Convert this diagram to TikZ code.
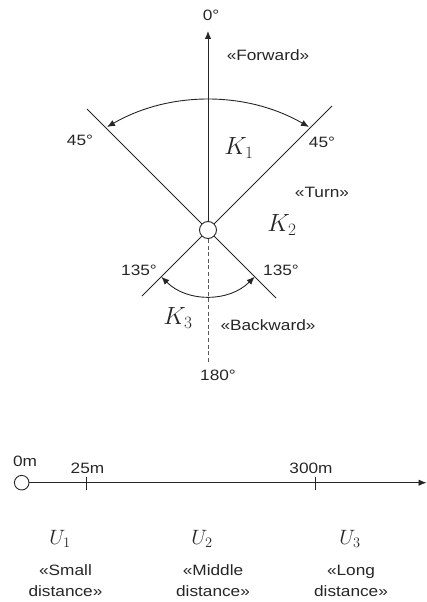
\documentclass[tikz,border=0pt]{standalone}
\usepackage{fontspec}
\setmainfont{Liberation Sans}[FakeStretch=1.15]
\usetikzlibrary{arrows.meta}

\begin{document}
\begin{tikzpicture}[x=1pt, y=-1pt,
  lbl/.style={font=\fontsize{15}{21}\selectfont, text=black!85, inner sep=0pt, align=center},
  ksym/.style={font=\fontsize{24}{24}\selectfont, text=black!85, inner sep=0pt},
  usym/.style={font=\fontsize{21}{21}\selectfont, text=black!85, inner sep=0pt},
  ray/.style={line width=0.9pt, black!85},
  arr/.style={-{Latex[length=8pt, width=6.5pt]}, line width=0.9pt, black!85},
  dbl/.style={{Latex[length=8pt, width=6.5pt]}-{Latex[length=8pt, width=6.5pt]}, line width=0.9pt, black!85},
  pivot/.style={circle, draw=black!85, line width=0.9pt, fill=white, inner sep=0pt}
]
\useasboundingbox (0,0) rectangle (427,602);

% sectors
\coordinate (nw) at (87,109);
\coordinate (se) at (276,298);
\coordinate (ne) at (332,106);
\coordinate (sw) at (142,296);
\draw[ray] (nw) -- (se);
\draw[ray] (ne) -- (sw);
\node[pivot, minimum size=17pt] (o) at (208,230) {};
\coordinate (top) at (208,31);
\coordinate (bot) at (208,362);
\draw[arr] (o.north) -- (top);
\draw[ray, black!65, dash pattern=on 4pt off 2.6pt] (o.south) -- (bot);
\draw[dbl] (107,127) arc[start angle=240, end angle=300, radius=202];
\draw[dbl] (161.3,276.7) arc[start angle=135, end angle=45, radius=66];

\node[lbl] (deg0) at (211,15) {0°};
\node[lbl] (fwd) at (268,55) {«Forward»};
\node[lbl] (deg45l) at (80,140) {45°};
\node[lbl] (deg45r) at (322,142) {45°};
\node[ksym] (k1) at (239,148) {$K_1$};
\node[lbl] (turn) at (322,192) {«Turn»};
\node[ksym] (k2) at (282,225) {$K_2$};
\node[lbl] (deg135l) at (139,270) {135°};
\node[lbl] (deg135r) at (281,270) {135°};
\node[ksym] (k3) at (178,318) {$K_3$};
\node[lbl] (bwd) at (268,325) {«Backward»};
\node[lbl] (deg180) at (218,375) {180°};

% distance axis
\node[pivot, minimum size=14.6pt] (z) at (21.7,482.7) {};
\coordinate (far) at (426.5,482.7);
\draw[arr] (z.east) -- (far);
\coordinate (t25) at (86.7,483.5);
\coordinate (t300) at (315,483.5);
\draw[ray] (t25) ++(0,-6.5) -- ++(0,13);
\draw[ray] (t300) ++(0,-6.5) -- ++(0,13);

\node[lbl] (m0) at (25,461) {0m};
\node[lbl] (m25) at (87.5,468) {25m};
\node[lbl] (m300) at (311,468) {300m};

\node[usym] (u1) at (60,539) {$U_1$};
\node[usym] (u2) at (202,539) {$U_2$};
\node[usym] (u3) at (350,539) {$U_3$};
\node[lbl] (small) at (65.5,581) {«Small\\distance»};
\node[lbl] (middle) at (213,581) {«Middle\\distance»};
\node[lbl] (long) at (351,581) {«Long\\distance»};
\end{tikzpicture}
\end{document}
